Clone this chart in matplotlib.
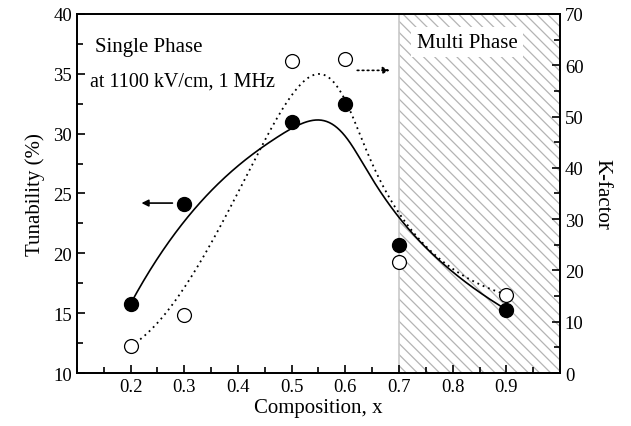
import numpy as np
import matplotlib
matplotlib.use("Agg")
import matplotlib.pyplot as plt
from matplotlib.ticker import MultipleLocator

# composition values and measured points
composition = [0.2, 0.3, 0.5, 0.6, 0.7, 0.9]
tunability = [15.8, 24.1, 31.0, 32.45, 20.7, 15.3]
k_factor = [5.3, 11.4, 60.9, 61.2, 21.7, 15.3]


def bspline(cx, cy, n=300, k=3):
    # clamped uniform B-spline using the data points as control points
    cx = np.asarray(cx, float)
    cy = np.asarray(cy, float)
    m = len(cx)
    knots = np.concatenate([np.zeros(k), np.linspace(0, 1, m - k + 1), np.ones(k)])
    t = np.linspace(0, 1 - 1e-9, n)
    N = np.zeros((n, len(knots) - 1))
    for i in range(len(knots) - 1):
        N[:, i] = (t >= knots[i]) & (t < knots[i + 1])
    for d in range(1, k + 1):
        Nn = np.zeros((n, len(knots) - 1 - d))
        for i in range(len(knots) - 1 - d):
            a = knots[i + d] - knots[i]
            b = knots[i + d + 1] - knots[i + 1]
            term = 0
            if a > 0:
                term = term + (t - knots[i]) / a * N[:, i]
            if b > 0:
                term = term + (knots[i + d + 1] - t) / b * N[:, i + 1]
            Nn[:, i] = term
        N = Nn
    return N @ cx, N @ cy


plt.rcParams['font.family'] = ['Liberation Serif', 'DejaVu Serif']
plt.rcParams['hatch.linewidth'] = 0.9

fig = plt.figure(figsize=(6.31, 4.27), dpi=100)
ax = fig.add_axes([0.122, 0.124, 0.7655, 0.841])
ax2 = ax.twinx()

# multi phase region, dense diagonal hatch
ax.axvspan(0.7, 1.0, facecolor='white', edgecolor='#b4b4b4', hatch=chr(92) * 3,
           linewidth=0, zorder=0)
ax.axvline(0.7, color='#c8c8c8', lw=1.2, zorder=0.5)

sx, sy = bspline(composition, tunability)
ax.plot(sx, sy, color='black', lw=1.2, zorder=3)
ax.plot(composition, tunability, 'o', ms=10, color='black', zorder=4)

kx, ky = bspline(composition, k_factor)
ax2.plot(kx, ky, color='black', lw=1.3, ls=(0, (1, 2.2)), zorder=3)
ax2.plot(composition, k_factor, 'o', ms=10, mfc='white', mec='black', mew=0.9, zorder=4)

ax.set_xlim(0.1, 1.0)
ax.set_ylim(10, 40)
ax2.set_ylim(0, 70)

ax.set_xticks([0.2, 0.3, 0.4, 0.5, 0.6, 0.7, 0.8, 0.9])
ax.xaxis.set_minor_locator(MultipleLocator(0.05))
ax.yaxis.set_major_locator(MultipleLocator(5))
ax.yaxis.set_minor_locator(MultipleLocator(2.5))
ax2.yaxis.set_major_locator(MultipleLocator(10))
ax2.yaxis.set_minor_locator(MultipleLocator(5))

ax.tick_params(which='both', direction='in', labelsize=13.5, width=1.2, top=False)
ax.tick_params(which='major', length=6)
ax.tick_params(which='minor', length=4)
ax2.tick_params(which='both', direction='in', labelsize=13.5, width=1.2)
ax2.tick_params(which='major', length=6)
ax2.tick_params(which='minor', length=4)
for a in (ax, ax2):
    for s in a.spines.values():
        s.set_linewidth(1.3)

ax.set_xlabel('Composition, x', fontsize=15, labelpad=2)
ax.set_ylabel('Tunability (%)', fontsize=15, labelpad=6)
ax2.set_ylabel('K-factor', fontsize=15, rotation=270, labelpad=20)

ax.text(0.133, 37.3, 'Single Phase', fontsize=15, ha='left', va='center')
ax.text(0.124, 34.4, 'at 1100 kV/cm, 1 MHz', fontsize=14.5, ha='left', va='center')
ax2.text(0.827, 64.5, 'Multi Phase', fontsize=15, ha='center', va='center',
         bbox=dict(facecolor='white', edgecolor='none', pad=4), zorder=5)

ax.annotate('', xy=(0.215, 24.2), xytext=(0.283, 24.2),
            arrowprops=dict(arrowstyle='-|>', color='black', lw=1.2, mutation_scale=10))
ax2.annotate('', xy=(0.688, 59.0), xytext=(0.617, 59.0),
             arrowprops=dict(arrowstyle='-|>', color='black', lw=1.2, ls=(0, (1, 2)),
                             mutation_scale=10))

fig.savefig('out.png', dpi=100)
